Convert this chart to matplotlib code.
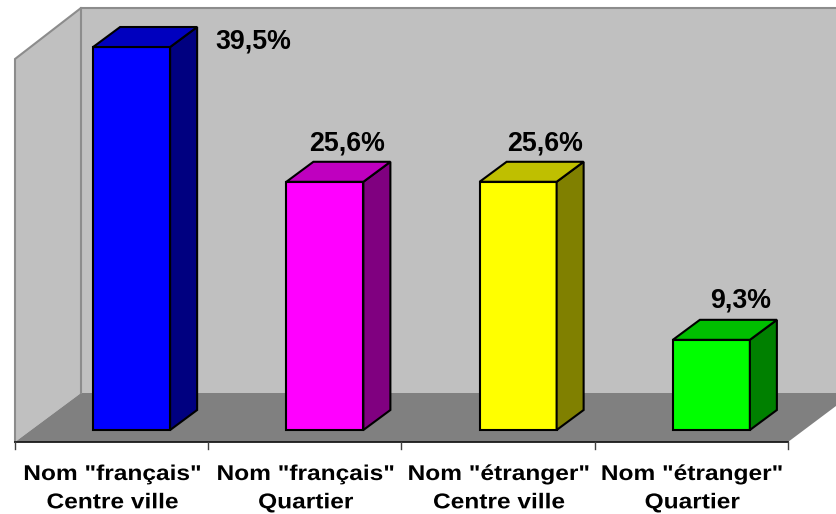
import matplotlib
matplotlib.use("Agg")
import matplotlib.pyplot as plt
from matplotlib.patches import Polygon
from matplotlib.patheffects import AbstractPathEffect
from matplotlib.transforms import Affine2D

categories = ['Nom "français"\nCentre ville', 'Nom "français"\nQuartier',
              'Nom "étranger"\nCentre ville', 'Nom "étranger"\nQuartier']
values = [39.5, 25.6, 25.6, 9.3]
value_labels = ["39,5%", "25,6%", "25,6%", "9,3%"]
front_colors = ["#0000FF", "#FF00FF", "#FFFF00", "#00FF00"]
top_colors = ["#0000BF", "#BF00BF", "#BFBF00", "#00BF00"]
side_colors = ["#000080", "#800080", "#808000", "#008000"]

# Layout, in pixels of the 837x514 canvas
W, H = 837, 514
SLOT = 193.25
LEFT, BASE = 15, 430
PX_PER_UNIT = 9.696
AXIS_Y = 442
BACK_X, BACK_Y, TOP_Y = 81, 393, 8
BAR_W, BAR_SHIFT = 77, 20
DEPTH_X, DEPTH_Y = 27, 20
LABEL_DX = [122, 22, 26.5, 29]
LABEL_DY = [6, 38, 38, 39]


class StretchX(AbstractPathEffect):
    """Widen each text line horizontally about its own centre."""

    def __init__(self, factor):
        super().__init__()
        self.factor = factor

    def draw_path(self, renderer, gc, tpath, affine, rgbFace=None):
        box = tpath.transformed(affine).get_extents()
        cx = (box.x0 + box.x1) / 2
        stretched = affine + Affine2D().translate(-cx, 0).scale(self.factor, 1).translate(cx, 0)
        renderer.draw_path(gc, tpath, stretched, rgbFace)


fig = plt.figure(figsize=(W / 100, H / 100), dpi=100, facecolor="white")
ax = fig.add_axes([0, 0, 1, 1])
x0 = -0.5 - LEFT / SLOT
ax.set_xlim(x0, x0 + W / SLOT)
ax.set_ylim((BASE - H) / PX_PER_UNIT, BASE / PX_PER_UNIT)
ax.axis("off")


def px(x, y):
    """Canvas pixel (origin top-left) to data coordinates."""
    return (x0 + x / SLOT, (BASE - y) / PX_PER_UNIT)


def poly(points, **kw):
    ax.add_patch(Polygon([px(*p) for p in points], closed=True, **kw))


def seg(points, color, lw, z=2):
    xs, ys = zip(*[px(*p) for p in points])
    ax.plot(xs, ys, color=color, lw=lw, zorder=z, solid_capstyle="projecting",
            solid_joinstyle="miter")


# Walls and floor
poly([(BACK_X, TOP_Y), (W + 5, TOP_Y), (W + 5, BACK_Y), (BACK_X, BACK_Y)],
     fc="#C0C0C0", ec="none", zorder=1)
poly([(LEFT, 59), (BACK_X, TOP_Y), (BACK_X, BACK_Y), (LEFT, AXIS_Y)],
     fc="#C0C0C0", ec="none", zorder=1)
floor_right = SLOT * 4 + LEFT
poly([(LEFT, AXIS_Y), (BACK_X, BACK_Y), (W + 70, BACK_Y), (floor_right, AXIS_Y)],
     fc="#808080", ec="none", zorder=1)
poly([(floor_right, AXIS_Y), (W + 5, AXIS_Y - (W + 5 - floor_right) * 0.75),
      (W + 5, AXIS_Y + 10), (floor_right, AXIS_Y + 10)], fc="white", ec="none", zorder=1.5)

seg([(LEFT, AXIS_Y), (LEFT, 59), (BACK_X, TOP_Y), (W + 5, TOP_Y)], "#8C8C8C", 1.5)
seg([(BACK_X, TOP_Y), (BACK_X, BACK_Y)], "#8C8C8C", 1.5)
seg([(LEFT, AXIS_Y), (floor_right, AXIS_Y)], "#1A1A1A", 1.3)
for i in range(5):
    tx = LEFT + SLOT * i
    seg([(tx, AXIS_Y), (tx, AXIS_Y + 7)], "#404040", 1.0)

# Bars: three visible faces each, heights taken from the values
dx = DEPTH_X / SLOT
dy = DEPTH_Y / PX_PER_UNIT
half = BAR_W / SLOT / 2
shift = BAR_SHIFT / SLOT
edge = dict(ec="black", lw=1.5, joinstyle="miter", zorder=3)
for i, v in enumerate(values):
    l, r = i + shift - half, i + shift + half
    ax.add_patch(Polygon([(l, 0), (r, 0), (r, v), (l, v)], fc=front_colors[i], **edge))
    ax.add_patch(Polygon([(r, 0), (r + dx, dy), (r + dx, v + dy), (r, v)], fc=side_colors[i], **edge))
    ax.add_patch(Polygon([(l, v), (r, v), (r + dx, v + dy), (l + dx, v + dy)], fc=top_colors[i], **edge))
    ax.text(i + shift + LABEL_DX[i] / SLOT, v + LABEL_DY[i] / PX_PER_UNIT, value_labels[i],
            ha="center", va="center", family="Liberation Sans", weight="bold",
            fontsize=19.3, color="black", zorder=4)

# Category labels below the axis
for i, name in enumerate(categories):
    lx, ly = px(LEFT + SLOT * (i + 0.5) + 1, 465)
    t = ax.text(lx, ly, name, ha="center", va="top", multialignment="center",
                family="Liberation Sans", weight="bold", fontsize=15.4, color="black",
                linespacing=1.62, zorder=4)
    t.set_path_effects([StretchX(1.145)])

fig.savefig("out.png", dpi=100, facecolor="white")
